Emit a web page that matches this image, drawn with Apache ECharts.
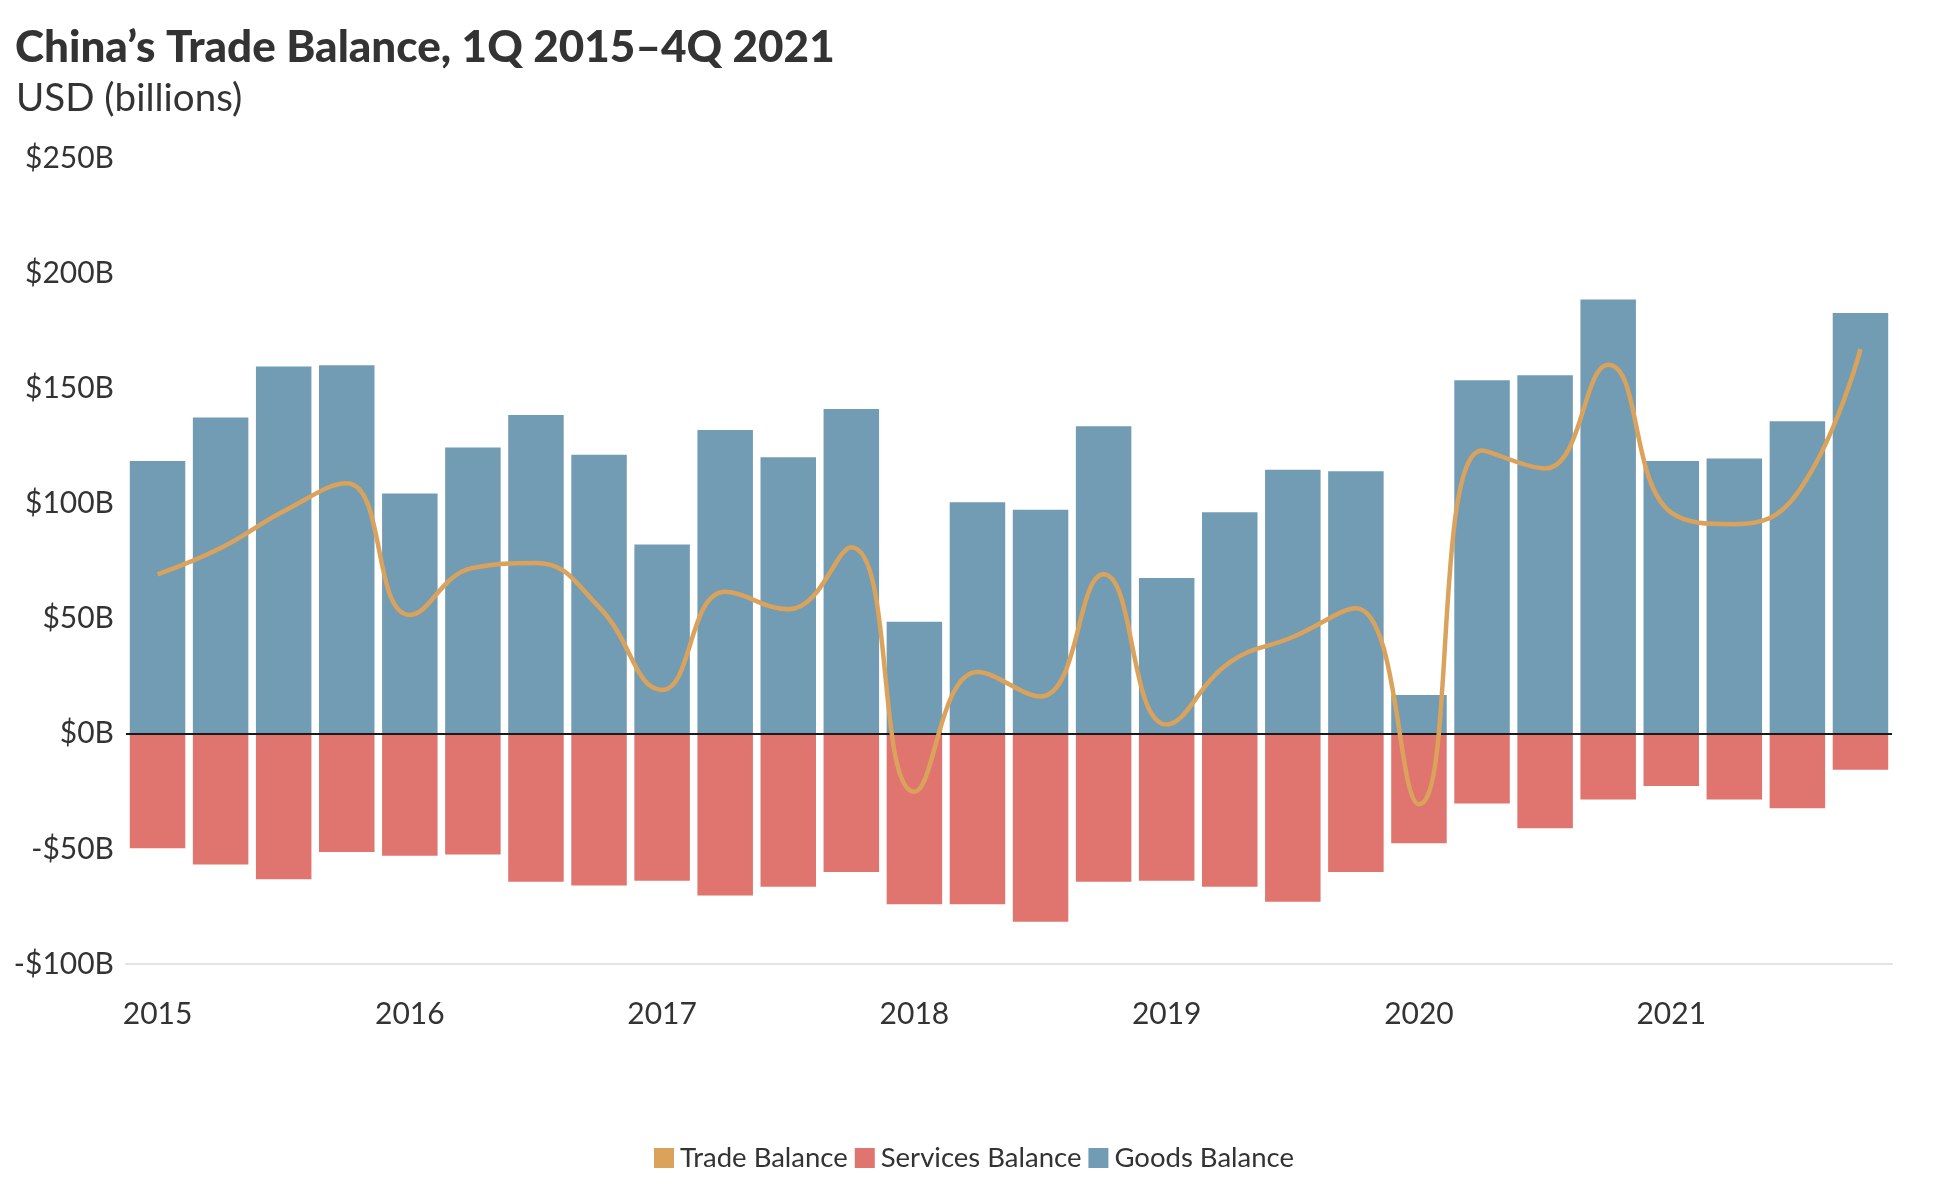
<!DOCTYPE html>
<html>
<head>
<meta charset="utf-8">
<script src="https://cdn.jsdelivr.net/npm/echarts@6/dist/echarts.min.js"></script>
<style>
html,body{margin:0;padding:0;background:#fff;}
#chart{width:1948px;height:1178px;}
</style>
</head>
<body>
<div id="chart"></div>
<script>
// Categories (quarters)
const quarters = [
  "1Q 2015","2Q 2015","3Q 2015","4Q 2015",
  "1Q 2016","2Q 2016","3Q 2016","4Q 2016",
  "1Q 2017","2Q 2017","3Q 2017","4Q 2017",
  "1Q 2018","2Q 2018","3Q 2018","4Q 2018",
  "1Q 2019","2Q 2019","3Q 2019","4Q 2019",
  "1Q 2020","2Q 2020","3Q 2020","4Q 2020",
  "1Q 2021","2Q 2021","3Q 2021","4Q 2021"
];
// Goods balance (USD billions)
const goodsBalance = [118.4, 137.3, 159.5, 160.0, 104.3, 124.3, 138.4, 121.1, 82.2, 131.9, 120.0, 141.0, 48.6, 100.5, 97.3, 133.5, 67.6, 96.2, 114.6, 114.0, 16.8, 153.5, 155.7, 188.6, 118.4, 119.5, 135.7, 182.7];
// Services balance (USD billions)
const servicesBalance = [-49.7, -56.8, -63.2, -51.4, -53.0, -52.4, -64.3, -65.9, -63.8, -70.3, -66.5, -60.0, -74.0, -74.0, -81.6, -64.3, -63.8, -66.5, -73.0, -60.0, -47.6, -30.3, -41.0, -28.6, -22.7, -28.6, -32.4, -15.7];
// Trade balance (USD billions)
const tradeBalance = [69.2, 80.6, 96.6, 108.8, 51.6, 72.0, 74.1, 55.0, 19.0, 61.6, 54.0, 81.0, -25.2, 26.8, 16.2, 69.2, 4.0, 31.0, 42.0, 54.5, -30.6, 123.0, 115.2, 160.2, 96.0, 91.0, 104.5, 167.0];
// Y tick settings
const yMin = -100, yMax = 250, yStep = 50;

const FONT = "Lato, 'Noto Sans', sans-serif";
const TXT = "#333333";
const C_GOODS = "#729cb4";
const C_SERV = "#e0746f";
const C_TRADE = "#dba25b";

const chart = echarts.init(document.getElementById('chart'));
chart.setOption({
  animation: false,
  backgroundColor: '#ffffff',
  textStyle: { fontFamily: FONT },
  title: [
    { text: 'China’s Trade Balance, 1Q 2015–4Q 2021', left: 10, top: 21,
      textStyle: { fontFamily: FONT, fontSize: 44, fontWeight: 900, color: TXT } },
    { text: 'USD (billions)', left: 11, top: 74,
      textStyle: { fontFamily: FONT, fontSize: 38.5, fontWeight: 'normal', color: TXT } }
  ],
  legend: {
    data: ['Trade Balance', 'Services Balance', 'Goods Balance'],
    left: 'center', top: 1139,
    icon: 'rect', itemWidth: 20, itemHeight: 20, itemGap: 7,
    textStyle: { fontFamily: FONT, fontSize: 27.5, color: TXT, padding: [0,0,0,1] }
  },
  grid: { left: 126, right: 56, top: 158, bottom: 214, containLabel: false },
  xAxis: {
    type: 'category',
    data: quarters,
    axisLine: { onZero: false, lineStyle: { color: '#e3e3e3', width: 2 } },
    axisTick: { show: false },
    axisLabel: {
      interval: 3, margin: 35, fontFamily: FONT, fontSize: 30, color: TXT,
      formatter: v => v.slice(-4)
    },
    splitLine: { show: false }
  },
  yAxis: {
    type: 'value', min: yMin, max: yMax, interval: yStep,
    axisLine: { show: false }, axisTick: { show: false },
    splitLine: { show: false },
    axisLabel: {
      margin: 12, fontFamily: FONT, fontSize: 30, color: TXT,
      formatter: v => (v < 0 ? '-$' + Math.abs(v) : '$' + v) + 'B'
    }
  },
  series: [
    {
      name: 'Goods Balance', type: 'bar', stack: 'bal', data: goodsBalance,
      itemStyle: { color: C_GOODS }, barCategoryGap: '12%',
      markLine: {
        silent: true, symbol: ['none', 'none'], label: { show: false },
        lineStyle: { color: '#1a1a1a', width: 2, type: 'solid' },
        data: [{ yAxis: 0 }]
      }
    },
    {
      name: 'Services Balance', type: 'bar', stack: 'bal', data: servicesBalance,
      itemStyle: { color: C_SERV }, barCategoryGap: '12%'
    },
    {
      name: 'Trade Balance', type: 'line', data: tradeBalance, smooth: 0.45,
      showSymbol: false, symbol: 'none',
      lineStyle: { color: C_TRADE, width: 4.5 }, itemStyle: { color: C_TRADE }, z: 5
    }
  ]
});
</script>
</body>
</html>
